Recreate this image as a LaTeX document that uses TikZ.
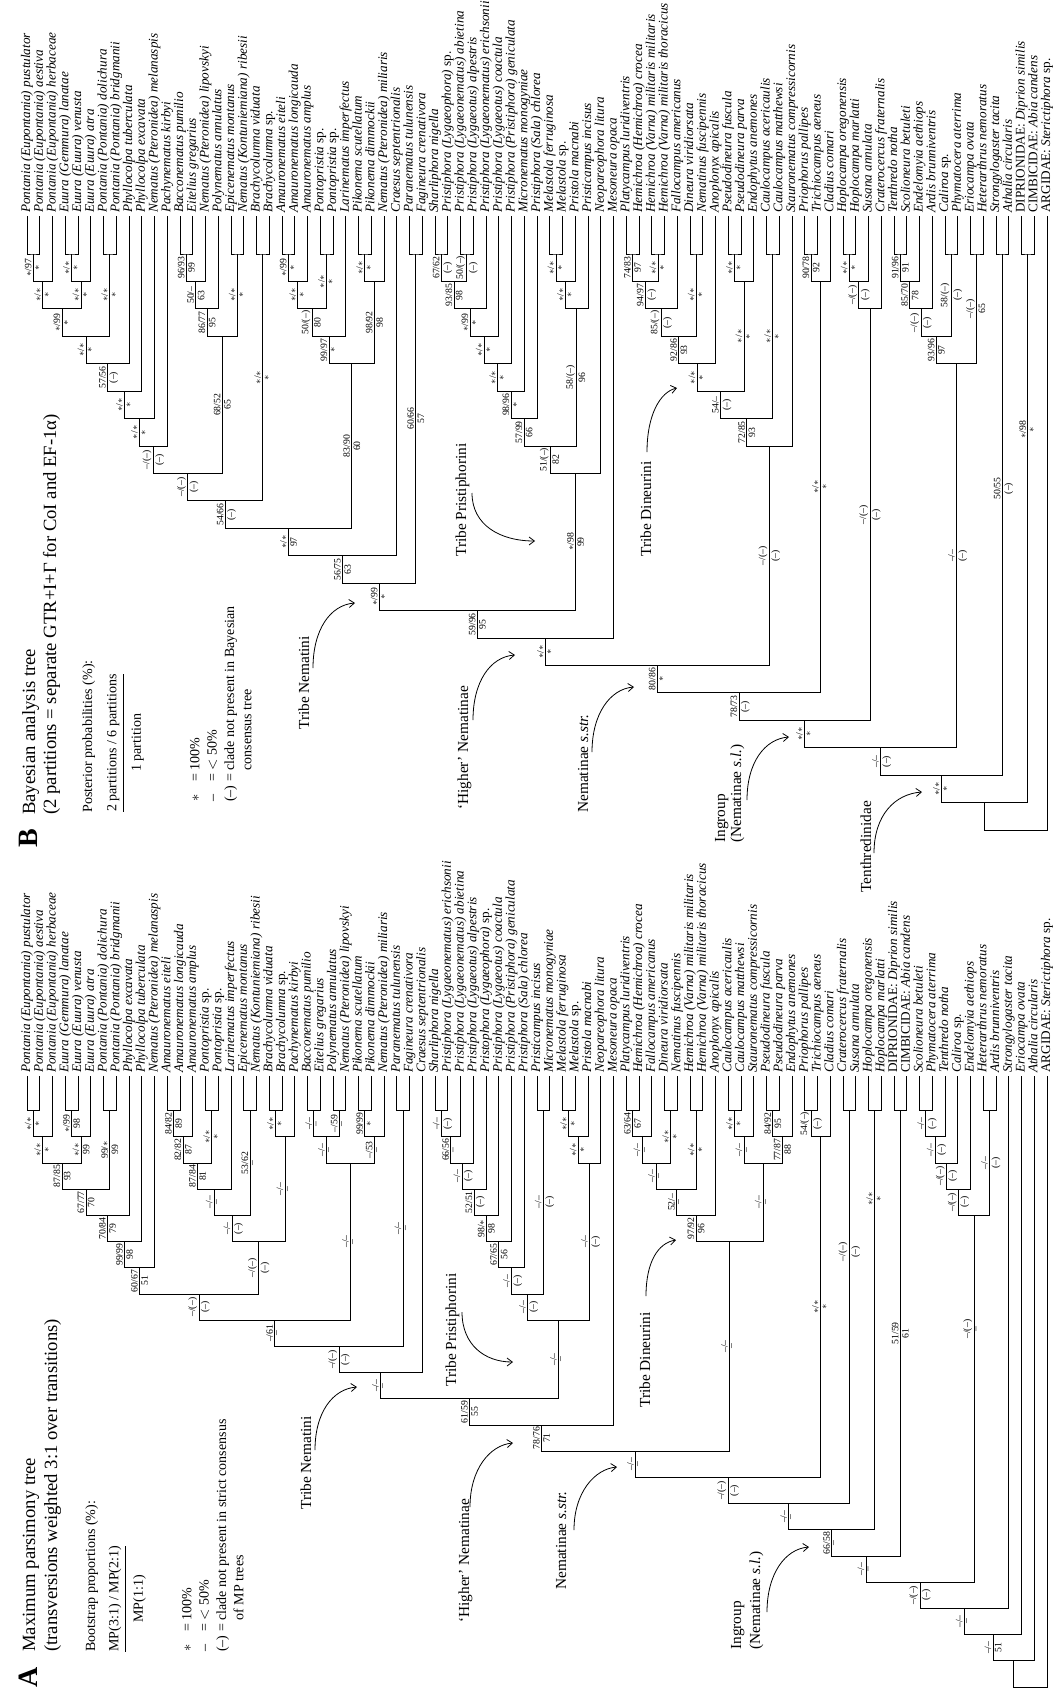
\documentclass[tikz,border=0pt]{standalone}
\usepackage{fontspec}
\setmainfont{Liberation Serif}
\usetikzlibrary{arrows.meta, calc}

\newcommand{\aster}{\ensuremath{\ast}}
% clade: name, first child, second child, level coordinate
\newcommand{\clade}[4]{%
  \coordinate (#1m) at ($(#2)!0.5!(#3)$);
  \coordinate (#1) at (#1m |- #4);
  \draw[branch] (#2) |- (#1) -| (#3);
}
% support values on the stem of a clade: [fraction], child, parent, left, right
\newcommand{\supp}[5][0.5]{%
  \coordinate (#2s) at ($(#2)!#1!(#2 |- #3)$);
  \node[supp, anchor=south] (#2l) at ([xshift=-0.8pt]#2s) {#4};
  \node[supp, anchor=north] (#2r) at ([xshift=0.8pt]#2s) {#5};
}

\begin{document}
\begin{tikzpicture}[
  x=0.75pt, y=-0.75pt,
  branch/.style={line width=0.7pt},
  taxon/.style={rotate=90, anchor=mid west, inner sep=0pt,
                font=\fontsize{9.9}{10}\selectfont\itshape},
  supp/.style={rotate=90, inner sep=0.4pt, font=\fontsize{7.3}{8}\selectfont},
  ttl/.style={rotate=90, anchor=base west, inner sep=0pt, font=\fontsize{14}{16}\selectfont},
  tletter/.style={rotate=90, anchor=base west, inner sep=0pt,
                  font=\fontsize{21}{23}\selectfont\bfseries},
  lgd/.style={rotate=90, inner sep=0pt, font=\fontsize{10.5}{13}\selectfont},
  ann/.style={rotate=90, anchor=base west, inner sep=0pt, font=\fontsize{11.5}{13}\selectfont},
  annarrow/.style={line width=0.6pt, -{Straight Barb[length=4pt,width=6pt]}}
]
\path[use as bounding box, fill=white] (0,0) rectangle (1059,1691);

% === Levels ===
\foreach \h in {0,...,22}{\pgfmathsetmacro{\yy}{254+(\h-1)*27.43}\coordinate (yB\h) at (0,\yy);}
\foreach \h in {0,...,23}{\pgfmathsetmacro{\yy}{1110.6+(\h-1)*26.2}\coordinate (yA\h) at (0,\yy);}

% === Tree B: taxa ===
\foreach \i/\nm in {1/{Pontania (Eupontania) pustulator}, 2/{Pontania (Eupontania) aestiva},
  3/{Pontania (Eupontania) herbaceae}, 4/{Euura (Gemmura) lanatae}, 5/{Euura (Euura) venusta},
  6/{Euura (Euura) atra}, 7/{Pontania (Pontania) dolichura}, 8/{Pontania (Pontania) bridgmanii},
  9/{Phyllocolpa tuberculata}, 10/{Phyllocolpa excavata}, 11/{Nematus (Pteronidea) melanaspis},
  12/{Pachynematus kirbyi}, 13/{Bacconematus pumilio}, 14/{Eitelius gregarius},
  15/{Nematus (Pteronidea) lipovskyi}, 16/{Polynematus annulatus}, 17/{Epicenematus montanus},
  18/{Nematus (Kontuniemiana) ribesii}, 19/{Brachycolumna viduata}, 20/{Brachycolumna \textup{sp.}},
  21/{Amauronematus eiteli}, 22/{Amauronematus longicauda}, 23/{Amauronematus amplus},
  24/{Pontopristia \textup{sp.}}, 25/{Pontopristia \textup{sp.}}, 26/{Larinematus imperfectus},
  27/{Pikonema scutellatum}, 28/{Pikonema dimmockii}, 29/{Nematus (Pteronidea) miliaris},
  30/{Craesus septentrionalis}, 31/{Paranematus tulunensis}, 32/{Fagineura crenativora},
  33/{Sharliphora nigella}, 34/{Pristiphora (Lygaeophora) \textup{sp.}},
  35/{Pristiphora (Lygaeonematus) abietina}, 36/{Pristiphora (Lygaeotus) alpestris},
  37/{Pristiphora (Lygaeonematus) erichsonii}, 38/{Pristiphora (Lygaeotus) coactula},
  39/{Pristiphora (Pristiphora) geniculata}, 40/{Micronematus monogyniae},
  41/{Pristiphora (Sala) chlorea}, 42/{Melastola ferruginosa}, 43/{Melastola \textup{sp.}},
  44/{Pristola macnabi}, 45/{Pristicampus incisus}, 46/{Neopareophora litura},
  47/{Mesoneura opaca}, 48/{Platycampus luridiventris}, 49/{Hemichroa (Hemichroa) crocea},
  50/{Hemichroa (Varna) militaris militaris}, 51/{Hemichroa (Varna) militaris thoracicus},
  52/{Fallocampus americanus}, 53/{Dineura viridiorsata}, 54/{Nematinus fuscipennis},
  55/{Anoplonyx apicalis}, 56/{Pseudodineura fuscula}, 57/{Pseudodineura parva},
  58/{Endophytus anemones}, 59/{Caulocampus acericaulis}, 60/{Caulocampus matthewsi},
  61/{Stauronematus compressicornis}, 62/{Priophorus pallipes}, 63/{Trichiocampus aeneus},
  64/{Cladius comari}, 65/{Hoplocampa oregonensis}, 66/{Hoplocampa marlatti},
  67/{Susana annulata}, 68/{Craterocercus fraternalis}, 69/{Tenthredo notha},
  70/{Scolioneura betuleti}, 71/{Endelomyia aethiops}, 72/{Ardis brunniventris},
  73/{Caliroa \textup{sp.}}, 74/{Phymatocera aterrima}, 75/{Eriocampa ovata},
  76/{Heterarthrus nemoratus}, 77/{Strongylogaster tacita}, 78/{Athalia circularis},
  79/{\textup{DIPRIONIDAE:} Diprion similis}, 80/{\textup{CIMBICIDAE:} Abia candens},
  81/{\textup{ARGIDAE:} Sterictiphora \textup{sp.}}}{
  \coordinate (B\i) at ({27+(\i-1)*12.75},216);
  \node[taxon] (Bt\i) at ({27+(\i-1)*12.75},213) {\nm};
}

% === Tree B: clades ===
\clade{Ba1}{B1}{B2}{yB1}
\clade{Ba2}{Ba1}{B3}{yB2}
\clade{Ba3}{B4}{B5}{yB1}
\clade{Ba4}{Ba3}{B6}{yB2}
\clade{Ba5}{Ba2}{Ba4}{yB3}
\clade{Ba6}{B7}{B8}{yB1}
\clade{Ba7}{Ba5}{Ba6}{yB4}
\clade{Ba8}{Ba7}{B9}{yB5}
\clade{Ba9}{Ba8}{B10}{yB6}
\clade{Ba10}{Ba9}{B11}{yB7}
\clade{Ba11}{Ba10}{B12}{yB8}
\clade{Bb1}{B13}{B14}{yB1}
\clade{Bb2}{Bb1}{B15}{yB2}
\clade{Bb3}{Bb2}{B16}{yB3}
\clade{Bb6}{B17}{B18}{yB1}
\clade{Bb4}{Bb3}{Bb6}{yB4}
\clade{Bb5}{B19}{B20}{yB1}
\clade{Bc1}{Ba11}{Bb4}{yB9}
\clade{Bc2}{Bc1}{Bb5}{yB10}
\clade{Bd1}{B21}{B22}{yB1}
\clade{Bd2}{Bd1}{B23}{yB2}
\clade{Bd3}{B24}{B25}{yB1}
\clade{Bd4}{Bd2}{Bd3}{yB3}
\clade{Bd5}{Bd4}{B26}{yB4}
\clade{Bd6}{B27}{B28}{yB1}
\clade{Bd7}{Bd6}{B29}{yB2}
\clade{BD}{Bd5}{Bd7}{yB5}
\clade{Bc3}{Bc2}{BD}{yB11}
\clade{Bc4}{Bc3}{B30}{yB12}
\clade{BF}{B31}{B32}{yB1}
\clade{Bc5}{Bc4}{BF}{yB13}
\clade{Be1}{B33}{B34}{yB1}
\clade{Be2}{B35}{B36}{yB1}
\clade{Be3}{Be1}{Be2}{yB2}
\clade{Be4}{Be3}{B37}{yB3}
\clade{Be5}{Be4}{B38}{yB4}
\clade{Be6}{Be5}{B39}{yB5}
\clade{Be7}{Be6}{B40}{yB6}
\clade{BG1}{Be7}{B41}{yB7}
\clade{Bg1}{B42}{B43}{yB1}
\clade{Bg2}{Bg1}{B44}{yB2}
\clade{BG2}{Bg2}{B45}{yB3}
\clade{BG}{BG1}{BG2}{yB8}
\clade{BP}{BG}{B46}{yB9}
\clade{Bc6}{Bc5}{BP}{yB14}
\clade{Bc7}{Bc6}{B47}{yB15}
\clade{Bf1}{B48}{B49}{yB1}
\clade{Bf2}{B50}{B51}{yB1}
\clade{Bf3}{Bf1}{Bf2}{yB2}
\clade{Bf4}{Bf3}{B52}{yB3}
\clade{Bf5}{B53}{B54}{yB1}
\clade{Bf6}{Bf4}{Bf5}{yB4}
\clade{Bf7}{Bf6}{B55}{yB5}
\clade{Bf8}{B56}{B57}{yB1}
\clade{Bf9}{Bf8}{B58}{yB2}
\clade{Bf10}{Bf7}{Bf9}{yB6}
\clade{Bf11}{B59}{B60}{yB1}
\clade{Bf12}{Bf10}{Bf11}{yB7}
\clade{BDin}{Bf12}{B61}{yB8}
\clade{Bc8}{Bc7}{BDin}{yB16}
\clade{Bk1}{B62}{B63}{yB1}
\clade{BI}{Bk1}{B64}{yB2}
\clade{Bc9}{Bc8}{BI}{yB17}
\clade{Bh1}{B65}{B66}{yB1}
\clade{Bh2}{Bh1}{B67}{yB2}
\clade{BJ}{Bh2}{B68}{yB3}
\clade{Bc10}{Bc9}{BJ}{yB18}
\clade{Bm1}{B69}{B70}{yB1}
\clade{Bm2}{Bm1}{B71}{yB2}
\clade{Bm3}{Bm2}{B72}{yB3}
\clade{Bm4}{B73}{B74}{yB1}
\clade{Bm5}{Bm3}{Bm4}{yB4}
\clade{Bm6}{B75}{B76}{yB1}
\clade{BK}{Bm5}{Bm6}{yB5}
\clade{Bc11}{Bc10}{BK}{yB19}
\clade{BSt}{B77}{B78}{yB1}
\clade{Bc12}{Bc11}{BSt}{yB20}
\clade{BM}{B79}{B80}{yB1}
\clade{Bc13}{Bc12}{BM}{yB21}
\clade{Broot}{Bc13}{B81}{yB22}

% === Tree B: support values ===
\supp{Ba1}{Ba2}{\aster/97}{\aster}
\supp{Ba2}{Ba5}{\aster/\aster}{\aster}
\supp{Ba3}{Ba4}{\aster/\aster}{\aster}
\supp{Ba4}{Ba5}{\aster/\aster}{\aster}
\supp{Ba5}{Ba7}{\aster/99}{\aster}
\supp{Ba6}{Ba7}{\aster/\aster}{\aster}
\supp{Ba7}{Ba8}{\aster/\aster}{\aster}
\supp{Ba8}{Ba9}{57/56}{(--)}
\supp{Ba9}{Ba10}{\aster/\aster}{\aster}
\supp{Ba10}{Ba11}{\aster/\aster}{\aster}
\supp{Ba11}{Bc1}{--/(--)}{(--)}
\supp{Bb1}{Bb2}{96/93}{99}
\supp{Bb2}{Bb3}{50/--}{63}
\supp{Bb3}{Bb4}{86/77}{95}
\supp{Bb6}{Bb4}{\aster/\aster}{\aster}
\supp{Bb4}{Bc1}{68/52}{65}
\supp{Bb5}{Bc2}{\aster/\aster}{\aster}
\supp{Bc1}{Bc2}{--/(--)}{(--)}
\supp{Bc2}{Bc3}{54/66}{(--)}
\supp{Bd1}{Bd2}{\aster/99}{\aster}
\supp{Bd2}{Bd4}{\aster/\aster}{\aster}
\supp{Bd3}{Bd4}{\aster/\aster}{\aster}
\supp{Bd4}{Bd5}{50/(--)}{80}
\supp{Bd5}{BD}{99/97}{\aster}
\supp{Bd6}{Bd7}{\aster/\aster}{\aster}
\supp{Bd7}{BD}{98/92}{98}
\supp{BD}{Bc3}{83/90}{60}
\supp{Bc3}{Bc4}{\aster/\aster}{97}
\supp{Bc4}{Bc5}{56/75}{63}
\supp{BF}{Bc5}{60/66}{57}
\supp{Bc5}{Bc6}{\aster/99}{\aster}
\supp{Be1}{Be3}{67/62}{(--)}
\supp{Be2}{Be3}{50/(--)}{(--)}
\supp{Be3}{Be4}{93/85}{98}
\supp{Be4}{Be5}{\aster/99}{\aster}
\supp{Be5}{Be6}{\aster/\aster}{\aster}
\supp{Be6}{Be7}{\aster/\aster}{\aster}
\supp{Be7}{BG1}{98/96}{\aster}
\supp{BG1}{BG}{57/99}{66}
\supp{Bg1}{Bg2}{\aster/\aster}{\aster}
\supp{Bg2}{BG2}{\aster/\aster}{\aster}
\supp{BG2}{BG}{58/(--)}{96}
\supp{BG}{BP}{51/(--)}{82}
\supp{BP}{Bc6}{\aster/98}{99}
\supp{Bc6}{Bc7}{59/96}{95}
\supp{Bc7}{Bc8}{\aster/\aster}{\aster}
\supp{Bf1}{Bf3}{74/83}{97}
\supp{Bf2}{Bf3}{\aster/\aster}{\aster}
\supp{Bf3}{Bf4}{94/97}{(--)}
\supp{Bf4}{Bf6}{85/(--)}{(--)}
\supp{Bf5}{Bf6}{\aster/\aster}{\aster}
\supp{Bf6}{Bf7}{92/86}{93}
\supp{Bf7}{Bf10}{\aster/\aster}{\aster}
\supp{Bf8}{Bf9}{\aster/\aster}{\aster}
\supp{Bf9}{Bf10}{\aster/\aster}{\aster}
\supp{Bf10}{Bf12}{54/--}{(--)}
\supp{Bf11}{Bf12}{\aster/\aster}{\aster}
\supp{Bf12}{BDin}{72/85}{93}
\supp{BDin}{Bc8}{--/(--)}{(--)}
\supp{Bc8}{Bc9}{80/86}{\aster}
\supp{Bk1}{BI}{90/78}{92}
\supp{BI}{Bc9}{\aster/\aster}{\aster}
\supp{Bc9}{Bc10}{78/73}{(--)}
\supp{Bh1}{Bh2}{\aster/\aster}{\aster}
\supp{Bh2}{BJ}{--/(--)}{(--)}
\supp{BJ}{Bc10}{--/(--)}{(--)}
\supp{Bc10}{Bc11}{\aster/\aster}{\aster}
\supp{Bm1}{Bm2}{91/96}{91}
\supp{Bm2}{Bm3}{85/70}{78}
\supp{Bm3}{Bm5}{--/(--)}{(--)}
\supp{Bm4}{Bm5}{58/(--)}{(--)}
\supp{Bm5}{BK}{93/96}{97}
\supp{Bm6}{BK}{--/(--)}{65}
\supp{BK}{Bc11}{--/--}{(--)}
\supp{Bc11}{Bc12}{--/--}{(--)}
\supp[0.45]{BSt}{Bc12}{50/55}{(--)}
\supp{Bc12}{Bc13}{\aster/\aster}{\aster}
\supp[0.32]{BM}{Bc13}{\aster/98}{\aster}

% === Tree B: title, legend, clade names ===
\node[tletter] (Blet) at (37,848) {B};
\node[ttl] (Btitle1) at (35,815) {Bayesian analysis tree};
\node[ttl] (Btitle2) at (56,815) {(2 partitions = separate GTR+I+Γ for CoI and EF-1α)};
\node[lgd, anchor=base west] (Bpp) at (92,813) {Posterior probabilities (\%):};
\node[lgd, anchor=north west] (Bfrac) at (104,812)
  {\begin{tabular}{@{}c@{}}2 partitions / 6 partitions\\[1pt]\hline\rule{0pt}{13pt}1 partition\end{tabular}};
\node[lgd, anchor=north west] (Bkey) at (187,802)
  {\begin{tabular}{@{}l@{\ =\ }l@{}}\aster & 100\%\\ -- & $<$ 50\%\\ (--) & clade not present in Bayesian\\
   \multicolumn{2}{@{}l@{}}{\phantom{(--)\ =\ }consensus tree}\end{tabular}};

\node[ann] (BnemT) at (309,730) {Tribe Nematini};
\node[ann] (BhigT) at (468,810) {`Higher' Nematinae};
\node[ann] (BpriT) at (466,557) {Tribe Pristiphorini};
\node[ann] (BdinT) at (651,557) {Tribe Dineurini};
\node[ann] (BstrT) at (588,813) {Nematinae \textit{s.str.}};
\node[ann] (BingT) at (725,843) {Ingroup};
\node[ann] (BingU) at (741,843) {(Nematinae \textit{s.l.})};
\node[ann] (BtenT) at (871,893) {Tenthredinidae};

\coordinate (BnemS) at (313,668);  \coordinate (BnemE) at (355,603);
\coordinate (BhigS) at (473,720);  \coordinate (BhigE) at (515,655);
\coordinate (BpriS) at (472,493);  \coordinate (BpriE) at (535,541);
\coordinate (BdinS) at (647,452);  \coordinate (BdinE) at (677,388);
\coordinate (BstrS) at (592,752);  \coordinate (BstrE) at (634,687);
\coordinate (BingS) at (747,800);  \coordinate (BingE) at (789,737);
\coordinate (BtenS) at (874,853);  \coordinate (BtenE) at (922,792);
\draw[annarrow] (BnemS) .. controls (313,630) and (330,605) .. (BnemE);
\draw[annarrow] (BhigS) .. controls (473,682) and (490,657) .. (BhigE);
\draw[annarrow] (BpriS) .. controls (472,525) and (500,541) .. (BpriE);
\draw[annarrow] (BdinS) .. controls (647,415) and (660,392) .. (BdinE);
\draw[annarrow] (BstrS) .. controls (592,714) and (610,689) .. (BstrE);
\draw[annarrow] (BingS) .. controls (747,762) and (765,739) .. (BingE);
\draw[annarrow] (BtenS) .. controls (874,815) and (895,794) .. (BtenE);

% === Tree A: taxa ===
\foreach \i/\nm in {1/{Pontania (Eupontania) pustulator}, 2/{Pontania (Eupontania) aestiva},
  3/{Pontania (Eupontania) herbaceae}, 4/{Euura (Gemmura) lanatae}, 5/{Euura (Euura) venusta},
  6/{Euura (Euura) atra}, 7/{Pontania (Pontania) dolichura}, 8/{Pontania (Pontania) bridgmanii},
  9/{Phyllocolpa excavata}, 10/{Phyllocolpa tuberculata}, 11/{Nematus (Pteronidea) melanaspis},
  12/{Amauronematus eiteli}, 13/{Amauronematus longicauda}, 14/{Amauronematus amplus},
  15/{Pontopristia \textup{sp.}}, 16/{Pontopristia \textup{sp.}}, 17/{Larinematus imperfectus},
  18/{Epicenematus montanus}, 19/{Nematus (Kontuniemiana) ribesii}, 20/{Brachycolumna viduata},
  21/{Brachycolumna \textup{sp.}}, 22/{Pachynematus kirbyi}, 23/{Bacconematus pumilio},
  24/{Eitelius gregarius}, 25/{Polynematus annulatus}, 26/{Nematus (Pteronidea) lipovskyi},
  27/{Pikonema scutellatum}, 28/{Pikonema dimmockii}, 29/{Nematus (Pteronidea) miliaris},
  30/{Paranematus tulunensis}, 31/{Fagineura crenativora}, 32/{Craesus septentrionalis},
  33/{Sharliphora nigella}, 34/{Pristiphora (Lygaeonematus) erichsonii},
  35/{Pristiphora (Lygaeonematus) abietina}, 36/{Pristiphora (Lygaeotus) alpestris},
  37/{Pristophora (Lygaeophora) \textup{sp.}}, 38/{Pristiphora (Lygaeotus) coactula},
  39/{Pristiphora (Pristiphora) geniculata}, 40/{Pristiphora (Sala) chlorea},
  41/{Pristicampus incisus}, 42/{Micronematus monogyniae}, 43/{Melastola ferruginosa},
  44/{Melastola \textup{sp.}}, 45/{Pristola macnabi}, 46/{Neopareophora litura},
  47/{Mesoneura opaca}, 48/{Platycampus luridiventris}, 49/{Hemichroa (Hemichroa) crocea},
  50/{Fallocampus americanus}, 51/{Dineura viridiorsata}, 52/{Nematinus fuscipennis},
  53/{Hemichroa (Varna) militaris militaris}, 54/{Hemichroa (Varna) militaris thoracicus},
  55/{Anoplonyx apicalis}, 56/{Caulocampus acericaulis}, 57/{Caulocampus matthewsi},
  58/{Stauronematus compressicornis}, 59/{Pseudodineura fuscula}, 60/{Pseudodineura parva},
  61/{Endophytus anemones}, 62/{Priophorus pallipes}, 63/{Trichiocampus aeneus},
  64/{Cladius comari}, 65/{Craterocercus fraternalis}, 66/{Susana annulata},
  67/{Hoplocampa oregonensis}, 68/{Hoplocampa marlatti},
  69/{\textup{DIPRIONIDAE:} Diprion similis}, 70/{\textup{CIMBICIDAE:} Abia candens},
  71/{Scolioneura betuleti}, 72/{Phymatocera aterrima}, 73/{Tenthredo notha},
  74/{Caliroa \textup{sp.}}, 75/{Endelomyia aethiops}, 76/{Heterarthrus nemoratus},
  77/{Ardis brunniventris}, 78/{Strongylogaster tacita}, 79/{Eriocampa ovata},
  80/{Athalia circularis}, 81/{\textup{ARGIDAE:} Sterictiphora \textup{sp.}}}{
  \coordinate (A\i) at ({27+(\i-1)*12.75},1076);
  \node[taxon] (At\i) at ({27+(\i-1)*12.75},1073) {\nm};
}

% === Tree A: clades ===
\clade{Aa1}{A1}{A2}{yA1}
\clade{Aa2}{Aa1}{A3}{yA2}
\clade{Aa3}{A4}{A5}{yA1}
\clade{Aa4}{Aa3}{A6}{yA2}
\clade{Aa5}{Aa2}{Aa4}{yA3}
\clade{Aa6}{A7}{A8}{yA1}
\clade{Aa7}{Aa5}{Aa6}{yA4}
\clade{Aa8}{Aa7}{A9}{yA5}
\clade{Aa9}{Aa8}{A10}{yA6}
\clade{Aa10}{Aa9}{A11}{yA7}
\clade{Ab1}{A12}{A13}{yA1}
\clade{Ab2}{Ab1}{A14}{yA2}
\clade{Ab3}{A15}{A16}{yA1}
\clade{Ab4}{Ab2}{Ab3}{yA3}
\clade{Ab5}{Ab4}{A17}{yA4}
\clade{Ab6}{A18}{A19}{yA1}
\clade{Ab7}{Ab5}{Ab6}{yA5}
\clade{Ad1}{A20}{A21}{yA1}
\clade{Ad2}{Ad1}{A22}{yA2}
\clade{Ad3}{Ab7}{Ad2}{yA6}
\clade{Ae1}{Aa10}{Ad3}{yA8}
\clade{Ag1}{A23}{A24}{yA1}
\clade{Ag2}{A25}{A26}{yA1}
\clade{Ag3}{Ag1}{Ag2}{yA2}
\clade{Ag4}{A27}{A28}{yA1}
\clade{Ag5}{Ag4}{A29}{yA2}
\clade{AE}{Ag3}{Ag5}{yA3}
\clade{Ae2}{Ae1}{AE}{yA9}
\clade{AF}{A30}{A31}{yA1}
\clade{Ae3}{Ae2}{AF}{yA10}
\clade{Ae4}{Ae3}{A32}{yA11}
\clade{Ap1}{A33}{A34}{yA1}
\clade{Ap2}{Ap1}{A35}{yA2}
\clade{Ap3}{Ap2}{A36}{yA3}
\clade{Ap4}{Ap3}{A37}{yA4}
\clade{Ap5}{Ap4}{A38}{yA5}
\clade{Ap6}{Ap5}{A39}{yA6}
\clade{Ap7}{Ap6}{A40}{yA7}
\clade{Aq1}{A41}{A42}{yA1}
\clade{Apq}{Ap7}{Aq1}{yA8}
\clade{Aq2}{A43}{A44}{yA1}
\clade{Aq3}{Aq2}{A45}{yA2}
\clade{Aq4}{Aq3}{A46}{yA3}
\clade{AP}{Apq}{Aq4}{yA9}
\clade{Ae5}{Ae4}{AP}{yA12}
\clade{Ah13}{Ae5}{A47}{yA13}
\clade{As1}{A48}{A49}{yA1}
\clade{As2}{As1}{A50}{yA2}
\clade{As3}{A51}{A52}{yA1}
\clade{As4}{As2}{As3}{yA3}
\clade{As5}{A53}{A54}{yA1}
\clade{As6}{As4}{As5}{yA4}
\clade{As7}{As6}{A55}{yA5}
\clade{At1}{A56}{A57}{yA1}
\clade{At2}{At1}{A58}{yA2}
\clade{At3}{A59}{A60}{yA1}
\clade{At4}{At3}{A61}{yA2}
\clade{AT}{At2}{At4}{yA3}
\clade{ADin}{As7}{AT}{yA6}
\clade{Ah14}{Ah13}{ADin}{yA14}
\clade{Au1}{A62}{A63}{yA1}
\clade{AClad}{Au1}{A64}{yA2}
\clade{Ah15}{Ah14}{AClad}{yA15}
\clade{ACra}{A65}{A66}{yA1}
\clade{Ah16}{Ah15}{ACra}{yA16}
\clade{AHop}{A67}{A68}{yA1}
\clade{Ah17}{Ah16}{AHop}{yA17}
\clade{ADip}{A69}{A70}{yA1}
\clade{Ah18}{Ah17}{ADip}{yA18}
\clade{Av1}{A71}{A72}{yA1}
\clade{Av2}{Av1}{A73}{yA2}
\clade{Av3}{Av2}{A74}{yA3}
\clade{Av4}{Av3}{A75}{yA4}
\clade{Av5}{A76}{A77}{yA1}
\clade{ATen}{Av4}{Av5}{yA5}
\clade{Ah19}{Ah18}{ATen}{yA19}
\clade{Ah20}{Ah19}{A78}{yA20}
\clade{Ah21}{Ah20}{A79}{yA21}
\clade{Ah22}{Ah21}{A80}{yA22}
\clade{Aroot}{Ah22}{A81}{yA23}

% === Tree A: support values ===
\supp{Aa1}{Aa2}{\aster/\aster}{\aster}
\supp{Aa2}{Aa5}{\aster/\aster}{\aster}
\supp{Aa3}{Aa4}{\aster/99}{98}
\supp{Aa4}{Aa5}{\aster/\aster}{99}
\supp{Aa5}{Aa7}{87/85}{93}
\supp{Aa6}{Aa7}{99/\aster}{99}
\supp{Aa7}{Aa8}{67/77}{70}
\supp{Aa8}{Aa9}{70/84}{79}
\supp{Aa9}{Aa10}{99/99}{98}
\supp{Aa10}{Ae1}{60/67}{51}
\supp{Ab1}{Ab2}{84/82}{89}
\supp{Ab2}{Ab4}{82/82}{87}
\supp{Ab3}{Ab4}{\aster/\aster}{\aster}
\supp{Ab4}{Ab5}{87/84}{81}
\supp{Ab5}{Ab7}{--/--}{--}
\supp{Ab6}{Ab7}{53/62}{--}
\supp{Ab7}{Ad3}{--/--}{(--)}
\supp{Ad1}{Ad2}{\aster/\aster}{\aster}
\supp{Ad2}{Ad3}{--/--}{--}
\supp{Ad3}{Ae1}{--/(--)}{(--)}
\supp{Ae1}{Ae2}{--/(--)}{(--)}
\supp{Ag1}{Ag3}{--/--}{--}
\supp{Ag2}{Ag3}{--/59}{--}
\supp{Ag3}{AE}{--/--}{--}
\supp{Ag4}{Ag5}{99/99}{\aster}
\supp{Ag5}{AE}{--/53}{--}
\supp{AE}{Ae2}{--/--}{--}
\supp{Ae2}{Ae3}{--/61}{--}
\supp{AF}{Ae3}{--/--}{--}
\supp{Ae3}{Ae4}{--/(--)}{(--)}
\supp{Ae4}{Ae5}{--/--}{--}
\supp{Ap1}{Ap2}{--/--}{(--)}
\supp{Ap2}{Ap3}{66/56}{--}
\supp{Ap3}{Ap4}{--/--}{(--)}
\supp{Ap4}{Ap5}{52/51}{(--)}
\supp{Ap5}{Ap6}{98/\aster}{98}
\supp{Ap6}{Ap7}{67/65}{56}
\supp{Ap7}{Apq}{--/--}{(--)}
\supp{Aq1}{Apq}{--/--}{(--)}
\supp{Apq}{AP}{--/--}{(--)}
\supp{Aq2}{Aq3}{\aster/\aster}{\aster}
\supp{Aq3}{Aq4}{\aster/\aster}{\aster}
\supp{Aq4}{AP}{--/--}{(--)}
\supp{AP}{Ae5}{--/--}{--}
\supp{Ae5}{Ah13}{61/59}{55}
\supp{Ah13}{Ah14}{78/76}{71}
\supp{As1}{As2}{63/64}{67}
\supp{As2}{As4}{--/--}{--}
\supp{As3}{As4}{\aster/\aster}{\aster}
\supp{As4}{As6}{--/--}{--}
\supp{As5}{As6}{\aster/\aster}{\aster}
\supp{As6}{As7}{52/--}{--}
\supp{As7}{ADin}{97/92}{96}
\supp{At1}{At2}{\aster/\aster}{\aster}
\supp{At2}{AT}{--/--}{--}
\supp{At3}{At4}{84/92}{95}
\supp{At4}{AT}{77/87}{88}
\supp{AT}{ADin}{--/--}{--}
\supp{ADin}{Ah14}{--/--}{--}
\supp{Ah14}{Ah15}{--/--}{--}
\supp{Au1}{AClad}{54/(--)}{(--)}
\supp{AClad}{Ah15}{\aster/\aster}{\aster}
\supp{Ah15}{Ah16}{--/(--)}{(--)}
\supp[0.36]{ACra}{Ah16}{--/(--)}{(--)}
\supp{Ah16}{Ah17}{--/--}{--}
\supp[0.21]{AHop}{Ah17}{\aster/\aster}{\aster}
\supp{Ah17}{Ah18}{66/58}{--}
\supp{ADip}{Ah18}{51/59}{61}
\supp{Ah18}{Ah19}{--/--}{--}
\supp{Av1}{Av2}{--/--}{(--)}
\supp{Av2}{Av3}{--/--}{(--)}
\supp{Av3}{Av4}{--/(--)}{(--)}
\supp{Av4}{ATen}{--/(--)}{(--)}
\supp{Av5}{ATen}{--/--}{(--)}
\supp[0.31]{ATen}{Ah19}{--/(--)}{--}
\supp{Ah19}{Ah20}{--/(--)}{(--)}
\supp{Ah20}{Ah21}{--/--}{--}
\supp{Ah21}{Ah22}{--/--}{51}

% === Tree A: title, legend, clade names ===
\node[tletter] (Alet) at (37,1688) {A};
\node[ttl] (Atitle1) at (35,1652) {Maximum parsimony tree};
\node[ttl] (Atitle2) at (57,1652) {(transversions weighted 3:1 over transitions)};
\node[lgd, anchor=base west] (Abp) at (95,1652) {Bootstrap proportions (\%):};
\node[lgd, anchor=north west] (Afrac) at (106,1652)
  {\begin{tabular}{@{}c@{}}MP(3:1) / MP(2:1)\\[1pt]\hline\rule{0pt}{13pt}MP(1:1)\end{tabular}};
\node[lgd, anchor=north west] (Akey) at (179,1652)
  {\begin{tabular}{@{}l@{\ =\ }l@{}}\aster & 100\%\\ -- & $<$ 50\%\\ (--) & clade not present in strict consensus\\
   \multicolumn{2}{@{}l@{}}{\phantom{(--)\ =\ }of MP trees}\end{tabular}};

\node[ann] (AnemT) at (311,1510) {Tribe Nematini};
\node[ann] (AhigT) at (469,1623) {`Higher' Nematinae};
\node[ann] (ApriT) at (456,1387) {Tribe Pristiphorini};
\node[ann] (AdinT) at (650,1408) {Tribe Dineurini};
\node[ann] (AstrT) at (566,1590) {Nematinae \textit{s.str.}};
\node[ann] (AingT) at (741,1650) {Ingroup};
\node[ann] (AingU) at (760,1650) {(Nematinae \textit{s.l.})};

\coordinate (AnemS) at (315,1450); \coordinate (AnemE) at (357,1387);
\coordinate (AhigS) at (470,1507); \coordinate (AhigE) at (513,1443);
\coordinate (ApriS) at (462,1312); \coordinate (ApriE) at (513,1362);
\coordinate (AdinS) at (646,1296); \coordinate (AdinE) at (676,1240);
\coordinate (AstrS) at (574,1530); \coordinate (AstrE) at (617,1467);
\coordinate (AingS) at (767,1612); \coordinate (AingE) at (809,1547);
\draw[annarrow] (AnemS) .. controls (315,1412) and (333,1389) .. (AnemE);
\draw[annarrow] (AhigS) .. controls (470,1469) and (490,1445) .. (AhigE);
\draw[annarrow] (ApriS) .. controls (462,1345) and (485,1362) .. (ApriE);
\draw[annarrow] (AdinS) .. controls (646,1262) and (658,1243) .. (AdinE);
\draw[annarrow] (AstrS) .. controls (574,1492) and (595,1469) .. (AstrE);
\draw[annarrow] (AingS) .. controls (767,1574) and (785,1549) .. (AingE);

\end{tikzpicture}
\end{document}
